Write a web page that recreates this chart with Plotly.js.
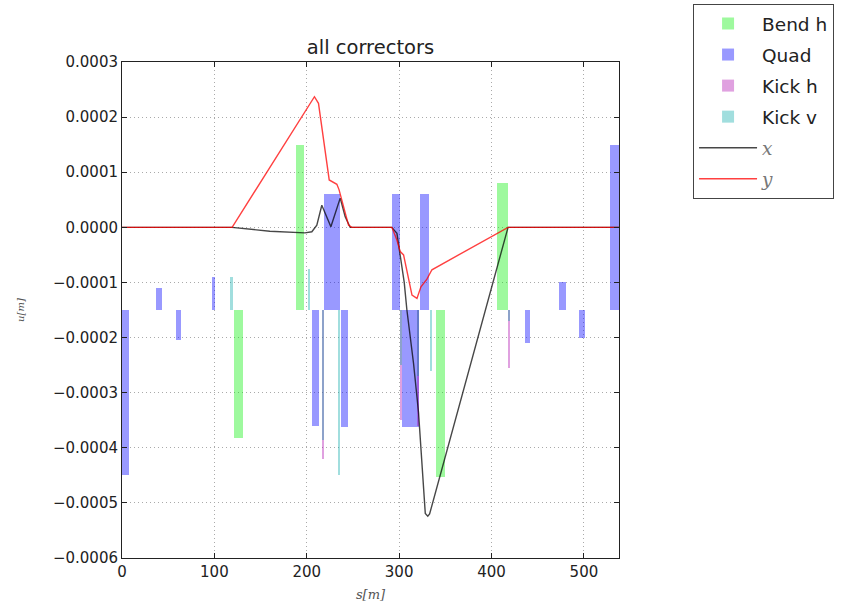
<!DOCTYPE html>
<html>
<head>
<meta charset="utf-8">
<script src="https://cdn.plot.ly/plotly-3.0.1.min.js"></script>
<style>html,body{margin:0;padding:0;background:#fff;}#chart{width:846px;height:605px;}</style>
</head>
<body>
<div id="chart"></div>
<script>
// Element base level of the corrector bars
const barBase = -0.00015;

// Bend h
const bendS = [126, 193, 345, 412];
const bendL = [10, 9, 10, 12];
const bendV = [-0.000382, 0.00015, -0.000453, 0.000081];

// Quad
const quadS = [4, 40, 61, 99, 209.5, 227, 241, 296.7, 312, 327.5, 439, 477, 498, 533];
const quadL = [8, 6, 6, 4, 8, 17, 8, 9, 18, 9, 6, 7, 6, 9];
const quadV = [-0.00045, -0.00011, -0.000205, -0.00009, -0.00036, 0.00006, -0.000363, 0.00006, -0.000362, 0.00006, -0.00021, -0.0001, -0.0002, 0.00015];

// Kick h
const kickhS = [217.3, 302, 320.5, 419];
const kickhL = [2, 2.5, 2, 3];
const kickhV = [-0.00042, -0.00035, -0.00036, -0.000256];

// Kick v
const kickvS = [118.5, 202, 217.3, 235, 302, 320.5, 334.4, 419];
const kickvL = [2.5, 2, 2, 2, 2, 2, 2, 2.5];
const kickvV = [-0.00009, -0.000075, -0.000385, -0.00045, -0.00025, -0.00027, -0.00026, -0.00017];

// Orbit x
const sX = [0, 119, 160, 198, 205.5, 210.9, 216.3, 226.1, 236.2, 241.6, 247, 292, 297.6, 305.5, 308.4, 311.3, 315.6, 321, 328.3, 331, 333, 417.9, 538];
const xV = [0, 0, -0.000007, -0.00001, -0.000008, 0.000004, 0.00004, 0.000001, 0.000053, 0.000019, 0, 0, -0.000011, -0.0001, -0.00015, -0.000186, -0.000247, -0.000336, -0.000519, -0.000524, -0.00052, 0, 0];

// Orbit y
const sY = [0, 119.2, 208.3, 212.7, 224.3, 232.6, 235, 245.2, 248.8, 292.2, 297.6, 301.2, 304.8, 308.4, 313.9, 319.3, 323.6, 330.1, 335.5, 417.9, 538];
const yV = [0, 0, 0.000237, 0.000225, 0.000086, 0.000078, 0.000068, 0.000004, 0, 0, -0.000023, -0.000044, -0.00005, -0.000077, -0.000123, -0.000129, -0.000108, -0.000094, -0.000077, 0, 0];

const xTicks = [0, 100, 200, 300, 400, 500];
const yTicks = [0.0003, 0.0002, 0.0001, 0, -0.0001, -0.0002, -0.0003, -0.0004, -0.0005, -0.0006];

function barTrace(name, s, l, v, color, grp) {
  return {
    type: 'bar', name: name, x: s, width: l,
    y: v.map(val => val - barBase), base: barBase,
    marker: {color: color, line: {width: 0}},
    legendgroup: grp, hoverinfo: 'x+y'
  };
}

const serif = 'font-family:DejaVu Serif;font-style:italic;';
const data = [
  barTrace('Bend h', bendS, bendL, bendV, 'rgba(0,240,0,0.38)', 'a'),
  barTrace('Quad', quadS, quadL, quadV, 'rgba(0,0,255,0.4)', 'b'),
  barTrace('Kick h', kickhS, kickhL, kickhV, 'rgba(170,0,170,0.37)', 'c'),
  barTrace('Kick v', kickvS, kickvL, kickvV, 'rgba(0,165,165,0.37)', 'd'),
  {type: 'scatter', mode: 'lines', name: '<span style="' + serif + 'color:#777">x</span>', x: sX, y: xV,
   line: {color: 'rgba(0,0,0,0.72)', width: 1.4}, legendgroup: 'e'},
  {type: 'scatter', mode: 'lines', name: '<span style="' + serif + 'color:#777">y</span>', x: sY, y: yV,
   line: {color: 'rgba(255,0,0,0.75)', width: 1.4}, legendgroup: 'f'}
];

const gridStyle = {gridcolor: '#aaaaaa', griddash: '1px,3px', gridwidth: 1};
const layout = {
  width: 846, height: 605,
  margin: {l: 122, r: 227, t: 62, b: 47, autoexpand: false},
  paper_bgcolor: '#fff', plot_bgcolor: '#fff',
  font: {family: 'DejaVu Sans', color: '#222', size: 15},
  barmode: 'overlay', bargap: 0,
  title: {text: 'all correctors', font: {size: 19.5, color: '#222'}, x: 0.5, xref: 'paper', xanchor: 'center',
          y: 1, yref: 'paper', yanchor: 'bottom', pad: {b: 8}},
  xaxis: Object.assign({
    range: [0, 538], tickvals: xTicks, ticktext: xTicks.map(String),
    showline: true, linecolor: '#222', linewidth: 1, mirror: 'allticks',
    ticks: 'inside', ticklen: 5, tickcolor: '#222', zeroline: false,
    tickfont: {size: 15},
    title: {text: '<span style="' + serif + '">s[m]</span>', font: {size: 13, color: '#555'}, standoff: 9}
  }, gridStyle),
  yaxis: Object.assign({
    range: [-0.0006, 0.0003], tickvals: yTicks, tickformat: '.4f',
    showline: true, linecolor: '#222', linewidth: 1, mirror: 'allticks',
    ticks: 'inside', ticklen: 5, tickcolor: '#222', zeroline: false,
    tickfont: {size: 15},
    title: {text: '<span style="' + serif + '">u[m]</span>', font: {size: 10, color: '#555'}, standoff: 26}
  }, gridStyle),
  legend: {
    x: 1.149, y: 1.117, xanchor: 'left', yanchor: 'top', xref: 'paper', yref: 'paper',
    bgcolor: '#fff', bordercolor: '#444', borderwidth: 1,
    font: {size: 18.5, color: '#222', family: 'DejaVu Sans'},
    tracegroupgap: 4, itemwidth: 58, traceorder: 'grouped'
  },
  showlegend: true
};

Plotly.newPlot('chart', data, layout, {displayModeBar: false, staticPlot: true});
</script>
</body>
</html>
